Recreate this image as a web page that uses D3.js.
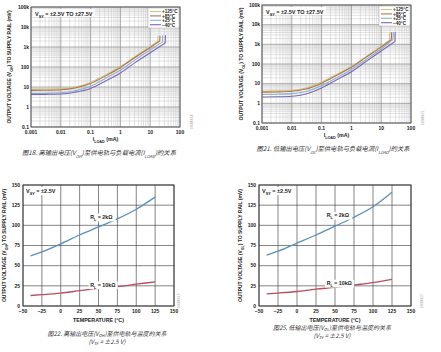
<!DOCTYPE html>
<html>
<head>
<meta charset="utf-8">
<script src="https://cdn.jsdelivr.net/npm/d3@7"></script>
<style>
  body { margin: 0; background: #fff; }
  text { font-family: "Liberation Sans", Arial, sans-serif; }
  .cap { font-family: "Noto Sans CJK SC", serif; font-style: italic; fill: #333; }
</style>
</head>
<body>
<div id="mychart"></div>
<script>
// ---- data (mV) ----
var loadTicks = ["0.001", "0.01", "0.1", "1", "10", "100"];
var railTicks = ["0.1", "1", "10", "100", "1k", "10k", "100k"];
var tempTicks = [-50, -25, 0, 25, 50, 75, 100, 125, 150];
var mvTicks = [0, 25, 50, 75, 100, 125, 150];
var seriesNames = ["+125°C", "+85°C", "+25°C", "\u221240°C"];

var load = [0.001, 0.003, 0.01, 0.03, 0.1, 0.3, 1, 3, 10];
// V_OH vs load, last two points = end of curve (current limit hook)
var vohLoadEnd = [[18, 18.3], [21, 21.3], [26, 26.3], [32, 32.4]];
var voh125 = [7.8, 7.9, 8.3, 10, 17, 38, 105, 320, 1050, 1900, 3600];
var voh85 = [6.8, 6.9, 7.3, 9, 15, 34, 95, 290, 950, 2000, 3700];
var voh25 = [4.8, 4.9, 5.2, 6.5, 11, 26, 70, 220, 720, 1800, 3800];
var vohM40 = [4.2, 4.3, 4.5, 5.5, 8.5, 19, 50, 160, 520, 1600, 3900];
// V_OL vs load
var volLoadEnd = [[19, 19.3], [22, 22.3], [25, 25.3], [29, 29.4]];
var vol125 = [4.2, 4.3, 4.6, 6, 12, 28, 75, 230, 800, 1600, 4000];
var vol85 = [3.7, 3.8, 4.1, 5.3, 10.5, 25, 68, 210, 720, 1700, 4100];
var vol25 = [2.8, 2.9, 3.1, 4, 8, 19, 52, 165, 580, 1800, 4200];
var volM40 = [2.1, 2.15, 2.3, 3, 6, 15, 40, 130, 460, 1400, 4300];

// temperature charts
var temps = [-40, -25, 0, 25, 50, 75, 100, 125];
var vohTemp2k = [62, 67, 77, 88, 98, 108, 120, 135];
var vohTemp10k = [13, 14, 16, 19, 22, 24, 27, 30];
var volTemp2k = [63, 68, 78, 88, 99, 110, 123, 141];
var volTemp10k = [15, 16, 18, 21, 23, 26, 29, 33];

var logColors = ["#c8c87c", "#b5714e", "#86b0d6", "#7a68b2"];

var svg = d3.select("#mychart").append("svg")
  .attr("width", 441).attr("height", 352);

function sub(t, main, s, after) {
  t.append("tspan").text(main);
  t.append("tspan").attr("baseline-shift", "sub").attr("font-size", "0.7em").text(s);
  t.append("tspan").text(after);
}

// ---------- log-log panel ----------
function logPanel(o) {
  var x = d3.scaleLog().domain([0.001, 100]).range([o.x0, o.x1]);
  var y = d3.scaleLog().domain([0.1, 100000]).range([o.y1, o.y0]);
  var g = svg.append("g");

  // minor + major grid
  var xs = [], ys = [];
  for (var e = -3; e < 2; e++) for (var k = 2; k < 10; k++) xs.push(k * Math.pow(10, e));
  for (var e = -1; e < 5; e++) for (var k = 2; k < 10; k++) ys.push(k * Math.pow(10, e));
  g.selectAll(".mx").data(xs).enter().append("line")
    .attr("x1", x).attr("x2", x).attr("y1", o.y0).attr("y2", o.y1)
    .attr("stroke", "#c4c4c4").attr("stroke-width", 0.5);
  g.selectAll(".my").data(ys).enter().append("line")
    .attr("y1", y).attr("y2", y).attr("x1", o.x0).attr("x2", o.x1)
    .attr("stroke", "#c4c4c4").attr("stroke-width", 0.5);
  g.selectAll(".Mx").data(loadTicks).enter().append("line")
    .attr("x1", d => x(+d)).attr("x2", d => x(+d)).attr("y1", o.y0).attr("y2", o.y1)
    .attr("stroke", "#8a8a8a").attr("stroke-width", 0.7);
  g.selectAll(".My").data(railTicks).enter().append("line")
    .attr("y1", (d, i) => y(Math.pow(10, i - 1))).attr("y2", (d, i) => y(Math.pow(10, i - 1)))
    .attr("x1", o.x0).attr("x2", o.x1)
    .attr("stroke", "#8a8a8a").attr("stroke-width", 0.7);

  // curves
  var line = d3.line().x(d => x(d[0])).y(d => y(d[1])).curve(d3.curveMonotoneX);
  o.series.forEach(function(s, i) {
    var xsI = load.concat(o.ends[i]);
    var pts = s.map((v, j) => [xsI[j], v]);
    g.append("path").attr("d", line(pts.slice(0, pts.length - 1)) )
      .attr("fill", "none").attr("stroke", logColors[i]).attr("stroke-width", 1.1);
    var a = pts[pts.length - 2], b = pts[pts.length - 1];
    g.append("line").attr("x1", x(a[0])).attr("y1", y(a[1])).attr("x2", x(b[0])).attr("y2", y(b[1]))
      .attr("stroke", logColors[i]).attr("stroke-width", 1.1);
  });

  // frame
  g.append("rect").attr("x", o.x0).attr("y", o.y0)
    .attr("width", o.x1 - o.x0).attr("height", o.y1 - o.y0)
    .attr("fill", "none").attr("stroke", "#555").attr("stroke-width", 0.9);

  // V_SY label
  g.append("rect").attr("x", o.x0 + 2).attr("y", o.y0 + 2).attr("width", 62).attr("height", 8).attr("fill", "#fff");
  var vt = g.append("text").attr("x", o.x0 + 4).attr("y", o.y0 + 8.5)
    .attr("font-size", 5.5).attr("font-weight", "bold").attr("fill", "#222");
  sub(vt, "V", "SY", " = \u00b12.5V TO \u00b127.5V");

  // legend
  var lx = o.x1 - 32, ly = o.y0 + 1;
  g.append("rect").attr("x", lx).attr("y", ly).attr("width", 31).attr("height", 20)
    .attr("fill", "#fff").attr("stroke", "#999").attr("stroke-width", 0.4);
  seriesNames.forEach(function(n, i) {
    g.append("line").attr("x1", lx + 2).attr("x2", lx + 13)
      .attr("y1", ly + 3.5 + i * 4.4).attr("y2", ly + 3.5 + i * 4.4)
      .attr("stroke", logColors[i]).attr("stroke-width", 1.1);
    g.append("text").attr("x", lx + 14).attr("y", ly + 5.3 + i * 4.4)
      .attr("font-size", 4.6).attr("font-weight", "bold").attr("fill", "#222").text(n);
  });

  // tick labels
  g.selectAll(".xl").data(loadTicks).enter().append("text")
    .attr("x", d => x(+d)).attr("y", o.y1 + 6.5).attr("text-anchor", "middle")
    .attr("font-size", 5).attr("font-weight", "bold").attr("fill", "#222").text(d => d);
  g.selectAll(".yl").data(railTicks).enter().append("text")
    .attr("x", o.x0 - 2).attr("y", (d, i) => y(Math.pow(10, i - 1)) + 1.8).attr("text-anchor", "end")
    .attr("font-size", 5).attr("font-weight", "bold").attr("fill", "#222").text(d => d);

  // axis titles
  var xt = g.append("text").attr("x", (o.x0 + o.x1) / 2).attr("y", o.y1 + 14)
    .attr("text-anchor", "middle").attr("font-size", 5.3).attr("font-weight", "bold").attr("fill", "#222");
  sub(xt, "I", "LOAD", " (mA)");
  var yt = g.append("text").attr("transform", "translate(" + o.ytx + "," + (o.y0 + o.y1) / 2 + ") rotate(-90)")
    .attr("text-anchor", "middle").attr("font-size", 5).attr("font-weight", "bold").attr("fill", "#222");
  sub(yt, "OUTPUT VOLTAGE (V", o.vsub, ") TO SUPPLY RAIL (mV)");

  // figure id
  g.append("text").attr("transform", "translate(" + (o.x1 + 13) + "," + (o.y1 + 2) + ") rotate(-90)")
    .attr("font-size", 3).attr("fill", "#999").text(o.fid);

  // caption
  var c = g.append("text").attr("class", "cap").attr("x", o.capx).attr("y", o.capy)
    .attr("text-anchor", "middle").attr("font-size", 6.3);
  c.append("tspan").text(o.fig + " " + o.capA + "(V");
  c.append("tspan").attr("baseline-shift", "sub").attr("font-size", "0.65em").text(o.vsub);
  c.append("tspan").text(")至供电轨与负载电流(I");
  c.append("tspan").attr("baseline-shift", "sub").attr("font-size", "0.65em").text("LOAD");
  c.append("tspan").text(")的关系");
}

// ---------- temperature panel ----------
function tempPanel(o) {
  var x = d3.scaleLinear().domain([-50, 150]).range([o.x0, o.x1]);
  var y = d3.scaleLinear().domain([0, 150]).range([o.y1, o.y0]);
  var g = svg.append("g");

  g.selectAll(".gx").data(tempTicks).enter().append("line")
    .attr("x1", x).attr("x2", x).attr("y1", o.y0).attr("y2", o.y1)
    .attr("stroke", "#333").attr("stroke-width", 0.6);
  g.selectAll(".gy").data(mvTicks).enter().append("line")
    .attr("y1", y).attr("y2", y).attr("x1", o.x0).attr("x2", o.x1)
    .attr("stroke", "#333").attr("stroke-width", 0.6);

  var line = d3.line().x((d, i) => x(temps[i])).y(d => y(d)).curve(d3.curveMonotoneX);
  g.append("path").attr("d", line(o.s2k)).attr("fill", "none").attr("stroke", "#5b8fb9").attr("stroke-width", 1.3);
  g.append("path").attr("d", line(o.s10k)).attr("fill", "none").attr("stroke", "#b64f5c").attr("stroke-width", 1.3);

  g.append("rect").attr("x", o.x0).attr("y", o.y0)
    .attr("width", o.x1 - o.x0).attr("height", o.y1 - o.y0)
    .attr("fill", "none").attr("stroke", "#333").attr("stroke-width", 0.9);

  // labels with white backing
  function lab(tx, ty, w, main, s, after, fs) {
    g.append("rect").attr("x", tx - 1.5).attr("y", ty - fs).attr("width", w).attr("height", fs + 2.5).attr("fill", "#fff");
    var t = g.append("text").attr("x", tx).attr("y", ty).attr("font-size", fs)
      .attr("font-weight", "bold").attr("fill", "#222");
    sub(t, main, s, after);
  }
  lab(o.x0 + 3, o.y0 + 7.5, 31, "V", "SY", " = \u00b12.5V", 5.5);
  lab(x(o.l2k[0]), y(o.l2k[1]), 27, "R", "L", " = 2k\u03a9", 5.3);
  lab(x(o.l10k[0]), y(o.l10k[1]), 29, "R", "L", " = 10k\u03a9", 5.3);

  g.selectAll(".xl").data(tempTicks).enter().append("text")
    .attr("x", x).attr("y", o.y1 + 7).attr("text-anchor", "middle")
    .attr("font-size", 5).attr("font-weight", "bold").attr("fill", "#222")
    .text(d => d < 0 ? "\u2212" + (-d) : d);
  g.selectAll(".yl").data(mvTicks).enter().append("text")
    .attr("x", o.x0 - 3).attr("y", d => y(d) + 1.8).attr("text-anchor", "end")
    .attr("font-size", 5).attr("font-weight", "bold").attr("fill", "#222").text(d => d);

  g.append("text").attr("x", (o.x0 + o.x1) / 2).attr("y", o.y1 + 15.5)
    .attr("text-anchor", "middle").attr("font-size", 5.3).attr("font-weight", "bold").attr("fill", "#222")
    .text("TEMPERATURE (°C)");
  var yt = g.append("text").attr("transform", "translate(" + o.ytx + "," + (o.y0 + o.y1) / 2 + ") rotate(-90)")
    .attr("text-anchor", "middle").attr("font-size", 5).attr("font-weight", "bold").attr("fill", "#222");
  sub(yt, "OUTPUT VOLTAGE (V", o.vsub, ") TO SUPPLY RAIL (mV)");

  g.append("text").attr("transform", "translate(" + (o.x1 + o.fidDx) + "," + (o.y1 + 2) + ") rotate(-90)")
    .attr("font-size", 3).attr("fill", "#999").text(o.fid);

  var c = g.append("text").attr("class", "cap").attr("x", o.capx).attr("y", o.capy)
    .attr("text-anchor", "middle").attr("font-size", 6);
  c.append("tspan").text(o.fig + " " + o.capA + "(V");
  c.append("tspan").attr("dy", 1.3).attr("font-size", "0.65em").text(o.vsub);
  c.append("tspan").attr("dy", -1.3).text(")至供电轨与温度的关系");
  var c2 = g.append("text").attr("class", "cap").attr("x", o.capx).attr("y", o.capy + 8)
    .attr("text-anchor", "middle").attr("font-size", 6);
  c2.append("tspan").text("(V");
  c2.append("tspan").attr("dy", 1.3).attr("font-size", "0.65em").text("SY");
  c2.append("tspan").attr("dy", -1.3).text(" = \u00b12.5 V)");
}

logPanel({x0: 31, x1: 180, y0: 7, y1: 127, ytx: 11, vsub: "OH",
  series: [voh125, voh85, voh25, vohM40], ends: vohLoadEnd,
  fid: "10688-018", fig: "图18.", capA: "高输出电压", capx: 99, capy: 155});
logPanel({x0: 262, x1: 411, y0: 5, y1: 123, ytx: 243, vsub: "OL",
  series: [vol125, vol85, vol25, volM40], ends: volLoadEnd,
  fid: "10688-021", fig: "图21.", capA: "低输出电压", capx: 333, capy: 151});
tempPanel({x0: 23, x1: 174, y0: 185, y1: 306, ytx: 6, vsub: "OH",
  s2k: vohTemp2k, s10k: vohTemp10k, l2k: [39, 108], l10k: [39, 24],
  fid: "10688-019", fidDx: 6, fig: "图22.", capA: "高输出电压", capx: 107, capy: 336});
tempPanel({x0: 259, x1: 411, y0: 185, y1: 306, ytx: 242, vsub: "OL",
  s2k: volTemp2k, s10k: volTemp10k, l2k: [39, 110], l10k: [39, 26],
  fid: "10688-027", fidDx: 12, fig: "图25.", capA: "低输出电压", capx: 332, capy: 330});
</script>
</body>
</html>
